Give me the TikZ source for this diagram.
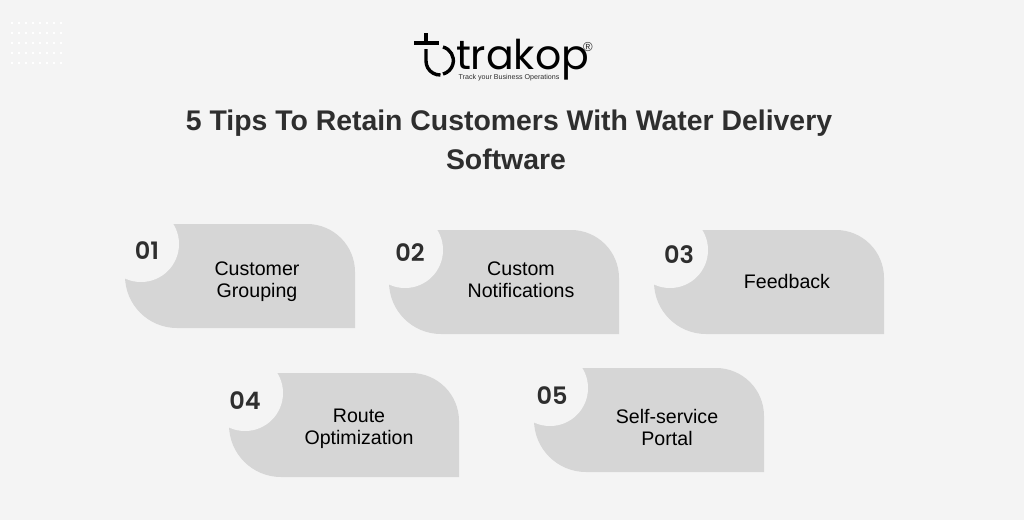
\documentclass[tikz,border=0pt]{standalone}
\usepackage{fontspec}
\setmainfont{Liberation Sans}
\newfontfamily\logofont{Poppins}
\newfontfamily\numfont{Poppins SemiBold}
\usetikzlibrary{positioning}
\definecolor{bgcol}{HTML}{F4F4F4}
\definecolor{cardcol}{HTML}{D6D6D6}
\definecolor{inkcol}{HTML}{2E2E2E}
\tikzstyle{tiptext} = [align=center, font=\fontsize{19.6}{22}\selectfont, text=black]
\tikzstyle{tipnum} = [font=\numfont\fontsize{24}{24}\selectfont, text=inkcol]
\tikzstyle{titletext} = [align=center, font=\fontsize{28.4}{39.5}\selectfont\bfseries, text=inkcol]
\tikzstyle{logoline} = [line width=3.4pt, draw=black]
\newcommand{\tipcard}[2]{
    \fill[cardcol] (#1+48,#2) -- (#1+182,#2) arc[start angle=-90, end angle=0, radius=48] -- (#1+230,#2+104) -- (#1+52,#2+104) arc[start angle=90, end angle=180, radius=52] -- (#1,#2) -- cycle;
    \fill[bgcol] (#1+16,#2+20) circle[radius=38];
}

\begin{document}
\begin{tikzpicture}[x=1pt, y=-1pt]
        \useasboundingbox (0,0) rectangle (1024,520);
        \fill[bgcol] (0,0) rectangle (1024,520);
        
        \foreach \x in {12,19,26,33,40,47,54,61}
            \foreach \y in {23,33,43,53,63}
                \fill[white] (\x-1,\y-1) rectangle (\x+1,\y+1);
        
        % logo
        \draw[logoline] (414,43) -- (439,43);
        \draw[logoline] (426,33) -- (426,43);
        \draw[logoline] (426,49) -- (426,61) arc[start angle=180, end angle=88, radius=14];
        \draw[logoline] (443,47) arc[start angle=-75, end angle=75, radius=14];
        \node (logo) at (522.5,59.5) [font=\logofont\fontsize{41}{41}\selectfont, text=black, inner sep=0pt] {trakop};
        \node (reg) at (588,47) [font=\fontsize{13}{13}\selectfont, text=inkcol, inner sep=0pt] {®};
        \node (tag) at (509,77.5) [font=\fontsize{7.1}{8}\selectfont, text=inkcol, inner sep=0pt] {Track your Business Operations};
        
        \node (title) at (509,140) [titletext] {5 Tips To Retain Customers With Water Delivery \\ \hspace*{-6pt}Software};
        
        \tipcard{125}{224}
        \tipcard{389}{230}
        \tipcard{654}{230}
        \tipcard{229}{373}
        \tipcard{534}{368}
        
        \node (n1) at (147,251) [tipnum] {01};
        \node (n2) at (410,253) [tipnum] {02};
        \node (n3) at (679,255) [tipnum] {03};
        \node (n4) at (245,401) [tipnum] {04};
        \node (n5) at (552,396) [tipnum] {05};
        
        \node (t1) at (257,282) [tiptext] {Customer \\ Grouping};
        \node (t2) at (521,280) [tiptext] {Custom \\ Notifications};
        \node (t3) at (787,281) [tiptext] {Feedback};
        \node (t4) at (359,429) [tiptext] {Route \\ Optimization};
        \node (t5) at (667,427) [tiptext] {Self-service \\ Portal};
        
    \end{tikzpicture}
\end{document}
